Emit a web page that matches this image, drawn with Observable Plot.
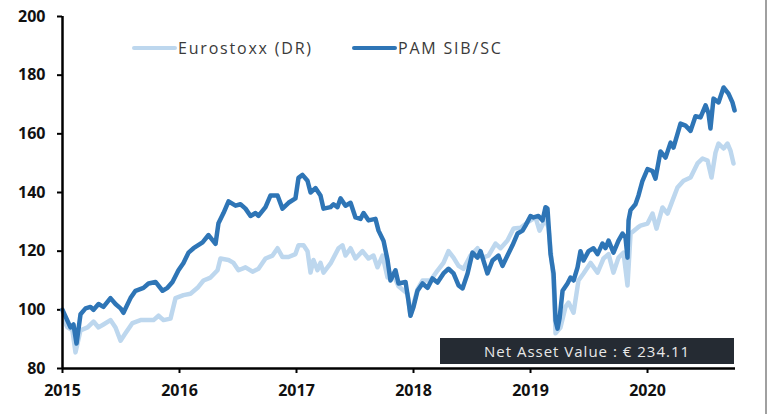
<!DOCTYPE html>
<html>
<head>
<meta charset="utf-8">
<script src="https://cdn.jsdelivr.net/npm/d3@7"></script>
<script src="https://cdn.jsdelivr.net/npm/@observablehq/plot@0.6"></script>
<style>
  html, body { margin: 0; padding: 0; background: #fff; }
  #wrap { position: relative; width: 769px; height: 414px; overflow: hidden; }
  .leg { position: absolute; top: 37px; font-family: "Open Sans", sans-serif; font-size: 16px; color: #3a3a3a; display: flex; align-items: center; letter-spacing: 1.8px; }
  .sw { display: inline-block; width: 45px; height: 4px; border-radius: 2px; margin-right: 1px; }
  #nav { position: absolute; left: 440px; top: 338px; width: 294px; height: 26px; background: #252b33; color: #e8e8e8; font-family: "Open Sans", sans-serif; font-size: 15px; line-height: 26px; text-align: center; letter-spacing: 1px; }
  #edge { position: absolute; left: 765px; top: 0; width: 2px; height: 414px; background: #a0a0a0; }
</style>
</head>
<body>
<div id="wrap"></div>
<script>
// Series names and colours
const seriesNames = ["Eurostoxx (DR)", "PAM SIB/SC"];
const seriesColors = ["#bdd7ee", "#2e75b6"];
const yTicks = [80, 100, 120, 140, 160, 180, 200];
const xTicks = [2015, 2016, 2017, 2018, 2019, 2020];
const navLabel = "Net Asset Value : € 234.11";

// PAM SIB/SC : [decimal year, value]
const pam = [
  [2015.000,100],[2015.068,94],[2015.094,95],[2015.120,88.5],[2015.154,98.5],[2015.197,100.5],
  [2015.239,101],[2015.265,100],[2015.308,102],[2015.350,101],[2015.410,104],[2015.453,102],
  [2015.496,100.5],[2015.521,99],[2015.581,104],[2015.624,106.5],[2015.692,107.5],[2015.735,109],
  [2015.795,109.5],[2015.855,106.5],[2015.897,107.5],[2015.940,109.5],[2015.991,113.5],[2016.034,116],
  [2016.077,119.5],[2016.120,121],[2016.197,123],[2016.248,125.5],[2016.308,122.5],[2016.333,129.5],
  [2016.376,133],[2016.419,137],[2016.479,135.5],[2016.521,136],[2016.564,134.5],[2016.607,132],
  [2016.650,133],[2016.675,132],[2016.735,135],[2016.778,139],[2016.838,139],[2016.880,134.5],
  [2016.932,136.5],[2016.991,138],[2017.017,145],[2017.051,146],[2017.094,144],[2017.120,140],
  [2017.162,141.5],[2017.205,139],[2017.231,134.5],[2017.291,135],[2017.316,136],[2017.350,135],
  [2017.376,138],[2017.419,135.5],[2017.462,136.5],[2017.504,131.5],[2017.547,131],[2017.573,133],
  [2017.615,130.5],[2017.675,131],[2017.701,127],[2017.744,123.5],[2017.778,117],[2017.803,110],
  [2017.846,113.5],[2017.872,109],[2017.932,109.5],[2017.957,103],[2017.974,98],[2018.000,101],
  [2018.034,106.5],[2018.077,109],[2018.120,107.5],[2018.162,110.7],[2018.205,109.3],[2018.256,112.4],
  [2018.299,114],[2018.342,112.4],[2018.385,108.3],[2018.419,107.3],[2018.462,112.4],[2018.504,119.5],
  [2018.547,117.8],[2018.573,120],[2018.632,112.4],[2018.675,116.8],[2018.726,118.5],[2018.761,115],
  [2018.803,118.5],[2018.846,122],[2018.889,126],[2018.932,127],[2018.957,128.7],[2019.000,132],
  [2019.026,131.5],[2019.068,132],[2019.103,130.5],[2019.128,135],[2019.145,134.5],[2019.171,119],
  [2019.197,112.4],[2019.214,96.4],[2019.231,93.6],[2019.248,97],[2019.274,106.5],[2019.316,109],
  [2019.342,111],[2019.368,110],[2019.402,114.5],[2019.427,120],[2019.453,116.8],[2019.496,120],
  [2019.538,121],[2019.573,119],[2019.615,122.6],[2019.641,121],[2019.667,123.6],[2019.709,119.5],
  [2019.752,123.6],[2019.786,126],[2019.812,124.6],[2019.829,117.8],[2019.838,130.5],[2019.855,134],
  [2019.897,136],[2019.923,139],[2019.957,144],[2020.000,148],[2020.043,147.3],[2020.068,144.7],
  [2020.111,154],[2020.154,151.9],[2020.197,157],[2020.222,155.3],[2020.282,163.5],[2020.325,162.8],
  [2020.368,161],[2020.410,166],[2020.453,165.6],[2020.496,169.7],[2020.521,167],[2020.538,161.8],
  [2020.564,172],[2020.607,170.7],[2020.650,175.8],[2020.692,173.7],[2020.726,170.7],[2020.744,168]
];

// Eurostoxx (DR) : [decimal year, value]
const eurostoxx = [
  [2015.000,100],[2015.017,96],[2015.043,94],[2015.085,93],[2015.111,85.5],[2015.154,93],
  [2015.214,94],[2015.265,96],[2015.308,94],[2015.350,95],[2015.410,96.5],[2015.453,94],
  [2015.496,89.5],[2015.538,92],[2015.598,95.5],[2015.667,96.5],[2015.726,96.5],[2015.778,96.5],
  [2015.821,98],[2015.863,96.5],[2015.923,97],[2015.966,104],[2016.034,105],[2016.094,105.5],
  [2016.154,107.5],[2016.205,110],[2016.265,111],[2016.325,113.5],[2016.350,117.5],[2016.419,117],
  [2016.462,116],[2016.504,113.5],[2016.564,114.5],[2016.624,113],[2016.675,114],[2016.735,117.5],
  [2016.795,118.5],[2016.838,121],[2016.880,118],[2016.932,118],[2016.991,119],[2017.017,122],
  [2017.060,122],[2017.094,120],[2017.120,112.7],[2017.145,117],[2017.179,113.5],[2017.205,116],
  [2017.231,112.7],[2017.291,115.8],[2017.359,121],[2017.393,122],[2017.419,118.5],[2017.462,121],
  [2017.504,117.5],[2017.564,120],[2017.615,117.5],[2017.658,118.5],[2017.692,114.5],[2017.735,118.5],
  [2017.778,111],[2017.821,112.5],[2017.872,108],[2017.949,105.5],[2017.974,98],[2018.000,102],
  [2018.034,107],[2018.077,110],[2018.145,110],[2018.205,113.4],[2018.256,116],[2018.299,120],
  [2018.342,117.8],[2018.385,115],[2018.427,114],[2018.487,118.5],[2018.547,121],[2018.590,117.8],
  [2018.641,118.5],[2018.701,122.6],[2018.744,121],[2018.803,123.6],[2018.855,127.7],[2018.915,128],
  [2018.974,129.8],[2019.043,131.5],[2019.077,127],[2019.128,131],[2019.154,128],[2019.197,110],
  [2019.214,92],[2019.256,94],[2019.299,101],[2019.325,102.5],[2019.368,99],[2019.410,110],
  [2019.453,112.4],[2019.513,116],[2019.573,112.7],[2019.624,117.5],[2019.667,119],[2019.709,112.7],
  [2019.752,117.8],[2019.795,119.5],[2019.829,108.3],[2019.855,126],[2019.915,128],[2019.940,128.7],
  [2020.000,129.4],[2020.043,132.8],[2020.077,127.7],[2020.128,134.9],[2020.171,132.8],[2020.214,137.3],
  [2020.256,141.7],[2020.308,144],[2020.368,145.1],[2020.427,149.9],[2020.470,151.6],[2020.513,150.9],
  [2020.547,145.1],[2020.581,153.6],[2020.607,156.7],[2020.650,155],[2020.684,156.7],[2020.709,154.3],
  [2020.735,149.9]
];

const xDomain = [2015, 2020.752];
const yDomain = [80, 200];

const chart = Plot.plot({
  width: 769,
  height: 414,
  marginLeft: 62,
  marginRight: 34,
  marginTop: 16,
  marginBottom: 46,
  style: { fontFamily: "'Open Sans', sans-serif", fontSize: "16px", fontWeight: "700", color: "#111", background: "#fff" },
  x: { type: "linear", domain: xDomain },
  y: { domain: yDomain },
  marks: [
    Plot.axisY({ ticks: yTicks, tickSize: 5, tickPadding: 12, strokeWidth: 2, stroke: "#000", tickFormat: d => String(d), fill: "#111", fontWeight: "bold", fontSize: 16 }),
    Plot.axisX({ ticks: xTicks, tickSize: 5, tickPadding: 11, strokeWidth: 2, stroke: "#000", tickFormat: d => String(d), fill: "#111", fontWeight: "bold", fontSize: 16 }),
    Plot.line(eurostoxx, { x: d => d[0], y: d => d[1], stroke: seriesColors[0], strokeWidth: 4.5, strokeLinejoin: "round", strokeLinecap: "round" }),
    Plot.line(pam, { x: d => d[0], y: d => d[1], stroke: seriesColors[1], strokeWidth: 4.5, strokeLinejoin: "round", strokeLinecap: "round" }),
    Plot.ruleX([xDomain[0]], { stroke: "#000", strokeWidth: 2.5, y1: yDomain[0], y2: yDomain[1] }),
    Plot.ruleY([yDomain[0]], { stroke: "#000", strokeWidth: 2.5, x1: xDomain[0], x2: xDomain[1] })
  ]
});

const wrap = document.getElementById("wrap");
wrap.appendChild(chart);

// legend
const legPos = [132, 352];
seriesNames.forEach((name, i) => {
  const d = document.createElement("div");
  d.className = "leg";
  d.style.left = legPos[i] + "px";
  d.innerHTML = `<span class="sw" style="background:${seriesColors[i]}"></span><span>${name}</span>`;
  wrap.appendChild(d);
});

const nav = document.createElement("div");
nav.id = "nav";
nav.textContent = navLabel;
wrap.appendChild(nav);

const edge = document.createElement("div");
edge.id = "edge";
wrap.appendChild(edge);
</script>
</body>
</html>
